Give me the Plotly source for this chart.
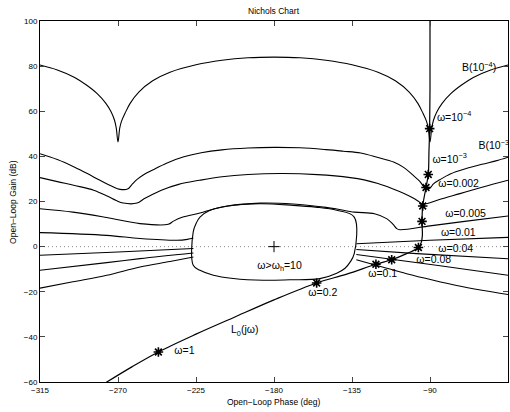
import plotly.graph_objects as go

# ---------------- data ----------------
# Bound B(1e-4)
b1_phase = [-315, -305, -295, -288, -282, -277, -274, -272, -271, -270, -269, -268, -266, -263,
            -258, -250, -240, -225, -210, -195, -180, -165, -150, -135, -120, -110, -102, -97,
            -94, -92, -91, -90, -89, -88, -86, -83, -78, -72, -65, -55, -45]
b1_gain = [80.5, 78.3, 75.0, 71.5, 67.8, 63.5, 59.8, 56.0, 52.5, 46.4, 52.5, 55.5, 59.0, 63.5,
           68.5, 73.5, 77.3, 80.6, 82.6, 83.7, 84.0, 83.7, 82.6, 80.6, 77.3, 73.5, 68.5, 63.5,
           59.0, 55.5, 52.5, 46.4, 52.5, 56.0, 59.8, 63.5, 67.8, 71.5, 75.0, 78.3, 80.5]

# Bound B(1e-3)
b2_phase = [-315, -305, -295, -288, -281, -276, -272, -269.5, -264.5, -262, -259, -255, -250,
            -242, -232, -222, -210, -195, -180, -165, -150, -140, -130, -120, -111, -105, -100,
            -96, -93.5, -92, -90, -88, -84, -78, -70, -60, -52, -45]
b2_gain = [41.2, 38.6, 35.2, 32.5, 29.6, 27.6, 26.2, 25.5, 25.5, 27.5, 29.8, 32.0, 34.0,
           37.0, 39.8, 41.6, 42.9, 43.7, 44.0, 43.8, 43.0, 42.3, 41.5, 39.5, 37.5, 35.0, 31.8,
           29.0, 26.5, 25.7, 26.0, 27.8, 29.8, 32.3, 34.4, 36.5, 38.0, 39.6]

# Bound for w = 0.002
b3_phase = [-315, -305, -295, -284, -276, -271, -267, -259, -255, -251, -245, -235, -223,
            -210, -195, -175, -155, -136, -128, -120, -112, -105, -100, -96.5, -94.8, -91.5,
            -85, -72.7, -60, -45]
b3_gain = [30.6, 28.8, 27.1, 25.0, 22.3, 20.4, 19.3, 19.3, 21.2, 22.8, 25.0, 27.6, 29.4,
           31.0, 32.0, 32.4, 31.9, 30.6, 29.6, 28.0, 25.8, 23.6, 21.7, 20.0, 19.1, 19.1,
           20.8, 23.5, 26.3, 29.4]

# Bound for w = 0.005
b4_phase = [-315, -296, -276.5, -257.3, -241, -238, -233, -222.7, -215, -207, -188, -169,
            -150, -143.8, -133.5, -122, -115, -111.3, -109.2, -107.3, -90, -70, -45]
b4_gain = [16.8, 15.3, 12.9, 10.2, 9.9, 11.3, 13.0, 14.9, 16.6, 18.0, 19.3, 18.9,
           17.4, 16.7, 15.3, 14.6, 12.4, 9.9, 8.0, 7.5, 9.2, 11.2, 13.6]

# Bound for w = 0.01 (left and right pieces)
b5l_phase = [-315, -276.5, -257.3, -236, -230, -226.5]
b5l_gain = [6.2, 5.0, 3.6, 2.8, 3.2, 3.8]
b5r_phase = [-132.5, -90, -45]
b5r_gain = [1.3, 2.8, 4.1]

# Bound for w = 0.04
b6l_phase = [-315, -270, -226.5]
b6l_gain = [-3.8, -2.4, -0.8]
b6r_phase = [-132.5, -97.7, -45]
b6r_gain = [-1.3, -3.1, -5.4]

# Bound for w = 0.08
b7l_phase = [-315, -276.5, -257.3, -226.5]
b7l_gain = [-10.5, -7.1, -5.3, -2.8]
b7r_phase = [-132.5, -110, -84.2, -45]
b7r_gain = [-3.5, -5.8, -8.5, -12.7]

# Bound for w = 0.1
b8l_phase = [-315, -296, -276.5, -257.3, -240, -226.5]
b8l_gain = [-18.4, -15.6, -12.7, -9.0, -6.6, -4.6]
b8r_phase = [-132.5, -118, -103.5, -88, -74.6, -60, -45]
b8r_gain = [-5.8, -8.9, -12.0, -14.9, -17.2, -19.3, -21.2]

# Bound for w > w_h = 10 (closed contour)
bh_phase = [-226.6, -226.6, -222.7, -215.0, -203.5, -186.2, -170.8, -153.5, -143.8, -139.0,
            -136.2, -133.7, -133.7, -143.8, -156, -168.9, -188.1, -207.3, -216.9, -222.7,
            -224.8, -226.6]
bh_gain = [6.5, -8.3, -10.5, -12.7, -14.1, -14.9, -14.7, -14.2, -11.8, -9.6,
           -7.0, -3.1, 13.1, 16.1, 17.5, 18.3, 19.0, 17.9, 16.1, 13.1,
           10.5, 6.5]

# Nominal loop L0(jw)
l0_phase = [-90, -90, -90.2, -90.6, -91.0, -92.3, -94.2, -94.6, -94.4, -95.0, -96.7,
            -103.5, -112.1, -121.2, -138, -155.4, -180, -203.5, -225, -246.7, -262, -277.5]
l0_gain = [100, 70, 52.3, 42, 32.0, 26.2, 18.0, 11.2, 5.0, 2.0, -0.4,
           -3.1, -5.8, -7.8, -12.2, -16.1, -23.6, -31.5, -38.8, -46.7, -53.3, -60.5]

# Design frequencies marked on L0
mk_phase = [-90.2, -91.0, -92.3, -94.2, -94.6, -96.7, -112.1, -121.2, -155.4, -246.7]
mk_gain = [52.3, 32.0, 26.2, 18.0, 11.2, -0.4, -5.8, -7.8, -16.1, -46.7]

# Text labels
lab_text = ["B(10<sup>−4</sup>)", "ω=10<sup>−4</sup>", "B(10<sup>−3</sup>)", "ω=10<sup>−3</sup>",
            "ω=0.002", "ω=0.005", "ω=0.01", "ω=0.04", "ω=0.08", "ω=0.1", "ω=0.2", "ω=1",
            "L<sub>0</sub>(jω)", "ω>ω<sub>h</sub>=10"]
lab_phase = [-71.5, -86.0, -62.0, -88.6, -85.2, -81.2, -83.7, -85.2, -97.9, -125.6, -160.2,
             -237.5, -204.8, -189.6]
lab_gain = [79.0, 57.0, 44.4, 38.3, 27.8, 14.5, 5.7, -1.4, -6.1, -12.5, -20.5, -46.6,
            -37.3, -8.7]

x_ticks = [-315, -270, -225, -180, -135, -90, -45]
y_ticks = [-60, -40, -20, 0, 20, 40, 60, 80, 100]

# ---------------- figure ----------------
FONT = "Liberation Sans, Arial, Helvetica, sans-serif"
fig = go.Figure()

line_style = dict(color="black", width=1.1)

# 0 dB dotted reference
fig.add_trace(go.Scatter(x=[-315, -45], y=[0, 0], mode="lines",
                         line=dict(color="#8a8a8a", width=1, dash="1px,3px"), hoverinfo="skip"))

for px, py in [(b1_phase, b1_gain), (b2_phase, b2_gain), (b3_phase, b3_gain), (b4_phase, b4_gain),
               (b5l_phase, b5l_gain), (b5r_phase, b5r_gain), (b6l_phase, b6l_gain),
               (b6r_phase, b6r_gain), (b7l_phase, b7l_gain), (b7r_phase, b7r_gain),
               (b8l_phase, b8l_gain), (b8r_phase, b8r_gain), (bh_phase, bh_gain)]:
    fig.add_trace(go.Scatter(x=px, y=py, mode="lines", line=line_style, line_shape="spline",
                             hoverinfo="skip"))

fig.add_trace(go.Scatter(x=l0_phase, y=l0_gain, mode="lines", line=dict(color="black", width=1.2),
                         line_shape="spline", hoverinfo="skip"))

# markers
fig.add_trace(go.Scatter(x=mk_phase, y=mk_gain, mode="markers",
                         marker=dict(symbol="circle", size=4.5, color="black"), hoverinfo="skip"))
fig.add_trace(go.Scatter(x=mk_phase, y=mk_gain, mode="markers",
                         marker=dict(symbol="asterisk-open", size=8, color="black",
                                     line=dict(color="black", width=1.6)), hoverinfo="skip"))

# centre cross
fig.add_trace(go.Scatter(x=[-180], y=[0], mode="markers",
                         marker=dict(symbol="cross-thin-open", size=8, color="black",
                                     line=dict(color="black", width=1)), hoverinfo="skip"))

# labels (clipped to the axes like the original)
fig.add_trace(go.Scatter(x=lab_phase, y=lab_gain, mode="text", text=lab_text,
                         textposition="middle right", cliponaxis=True,
                         textfont=dict(family=FONT, size=10.5, color="black"), hoverinfo="skip"))

fig.update_layout(
    width=510, height=412,
    margin=dict(l=40, r=2, t=21, b=30),
    paper_bgcolor="white", plot_bgcolor="white",
    showlegend=False,
    font=dict(family=FONT, size=8, color="black"),
    xaxis=dict(range=[-315, -45], tickvals=x_ticks, ticks="inside", ticklen=5,
               showline=True, mirror="ticks", linecolor="black", linewidth=1,
               showgrid=False, zeroline=False, tickfont=dict(size=8)),
    yaxis=dict(range=[-60, 100], tickvals=y_ticks, ticks="inside", ticklen=5,
               showline=True, mirror="ticks", linecolor="black", linewidth=1,
               showgrid=False, zeroline=False, tickfont=dict(size=8)),
    annotations=[
        dict(text="Nichols Chart", xref="paper", yref="paper", x=0.5, y=1.028,
             xanchor="center", yanchor="middle", showarrow=False, font=dict(size=8.5)),
        dict(text="Open−Loop Phase (deg)", xref="paper", yref="paper", x=0.5, y=-0.055,
             xanchor="center", yanchor="middle", showarrow=False, font=dict(size=8.5)),
        dict(text="Open−Loop Gain (dB)", xref="paper", yref="paper", x=-0.059, y=0.5,
             xanchor="center", yanchor="middle", showarrow=False, textangle=-90,
             font=dict(size=8.5)),
    ],
)

fig.write_html("out.html")
